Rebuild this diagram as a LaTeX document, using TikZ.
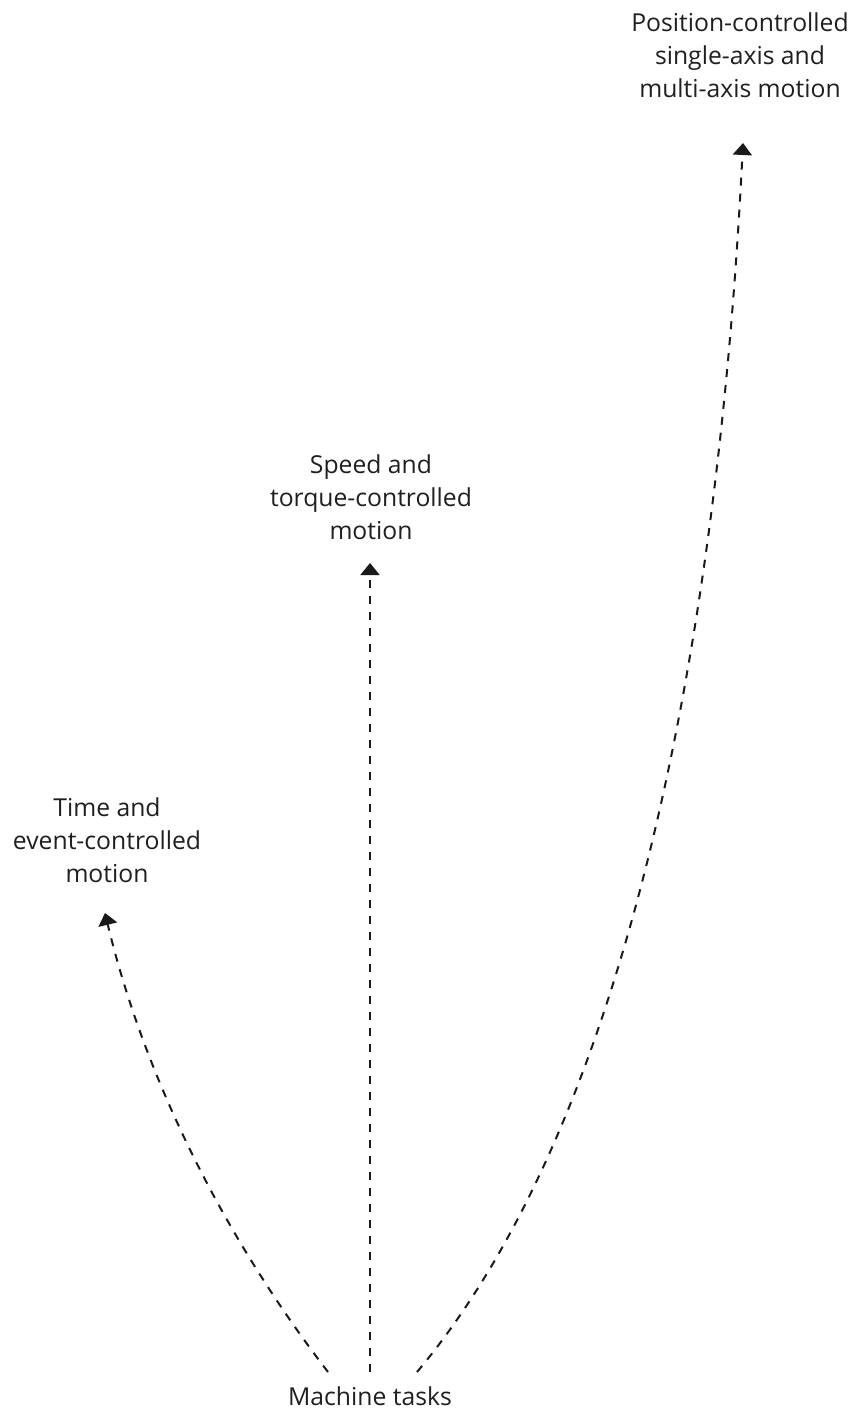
\documentclass[tikz,border=0pt]{standalone}
\usepackage{fontspec}
\setmainfont{Open Sans}
\usetikzlibrary{arrows.meta}
\begin{document}
\begin{tikzpicture}[x=1bp,y=-1bp,
  lbl/.style={align=center, font=\fontsize{24.8}{33}\selectfont, inner sep=0pt, text=black!88},
  flow/.style={line width=2bp, dash pattern=on 8bp off 8bp, draw=black!90,
    -{Triangle[width=19bp,length=12bp]}}]
\useasboundingbox (0,0) rectangle (867,1410);
\node[lbl] (pos) at (740,55) {Position-controlled\\single-axis and\\multi-axis motion};
\node[lbl] (spd) at (371,497) {Speed and\\torque-controlled\\motion};
\node[lbl] (tim) at (107,840) {Time and\\event-controlled\\motion};
\node[lbl, anchor=base] (mt) at (370,1405) {Machine tasks};
\coordinate (sL) at (328,1372);
\coordinate (sM) at (370,1372);
\coordinate (sR) at (417,1372);
\coordinate (tL) at (105,913);
\coordinate (tM) at (370,563);
\coordinate (tR) at (743,143);
\draw[flow] (sL) .. controls (213,1222) and (141,1063) .. (tL);
\draw[flow] (sM) -- (tM);
\draw[flow] (sR) .. controls (627,1122) and (718,645) .. (tR);
\end{tikzpicture}
\end{document}
